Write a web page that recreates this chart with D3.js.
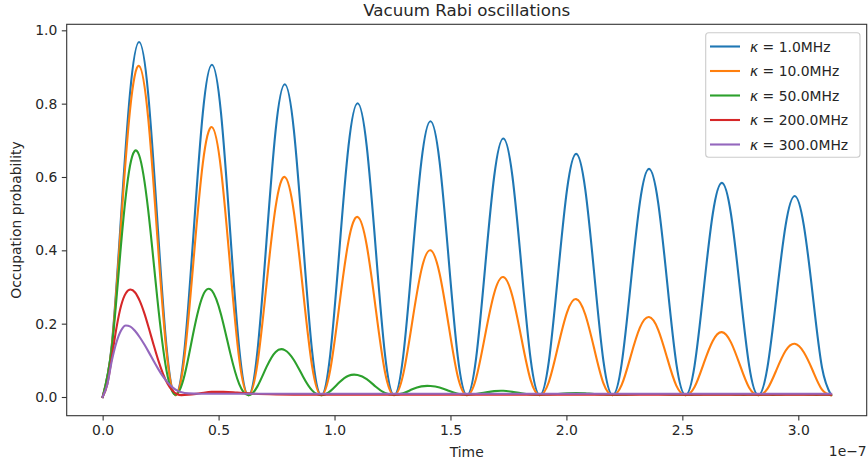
<!DOCTYPE html>
<html>
<head>
<meta charset="utf-8">
<script src="https://cdn.jsdelivr.net/npm/d3@7"></script>
<style>
  body { margin: 0; background: #fff; }
  svg { display: block; }
  text { font-family: "DejaVu Sans", sans-serif; fill: #262626; }
</style>
</head>
<body>
<svg id="chart" width="868" height="463"></svg>
<script>
// time is in units of 1e-7 s; the three oscillating series are read on a
// grid of 8 samples per half Rabi period (zeros at multiples of pi/10)
const halfPeriod = Math.PI / 10;

const seriesNames = ["1.0MHz", "10.0MHz", "50.0MHz", "200.0MHz", "300.0MHz"];
const seriesColors = ["#1f77b4", "#ff7f0e", "#2ca02c", "#d62728", "#9467bd"];

const kappa1 = [0,
  .141, .484, .827, .968, .827, .484, .141, .005,
  .132, .453, .774, .906, .774, .453, .132, .005,
  .125, .427, .728, .853, .728, .427, .125, .005,
  .117, .401, .684, .801, .684, .401, .117, .005,
  .110, .376, .642, .752, .642, .376, .110, .005,
  .103, .353, .602, .705, .602, .353, .103, .005,
  .097, .332, .566, .663, .566, .332, .097, .005,
  .091, .311, .531, .622, .531, .311, .091, .005,
  .085, .292, .499, .584, .499, .292, .085, .005,
  .080, .274, .468, .548, .468, .274, .080, .005];

const kappa10 = [0,
  .137, .464, .781, .903, .761, .439, .127, .005,
  .112, .378, .637, .736, .621, .358, .103, .005,
  .091, .308, .519, .600, .505, .292, .084, .005,
  .075, .252, .425, .491, .414, .239, .069, .005,
  .061, .205, .346, .400, .337, .195, .056, .005,
  .050, .168, .283, .327, .275, .159, .046, .005,
  .041, .137, .231, .267, .225, .130, .037, .005,
  .033, .112, .189, .218, .184, .106, .031, .005,
  .027, .091, .153, .177, .149, .086, .025, .005,
  .022, .074, .126, .145, .122, .071, .020, .005];

const kappa50 = [0,
  .133, .410, .630, .660, .510, .270, .074, .006,
  .060, .180, .276, .290, .225, .121, .035, .005,
  .029, .082, .123, .128, .101, .056, .018, .005,
  .016, .040, .058, .060, .049, .028, .011, .006,
  .010, .021, .029, .030, .026, .017, .009, .006,
  .008, .012, .016, .017, .014, .010, .007, .006,
  .007, .008, .010, .011, .010, .008, .007, .006,
  .006, .007, .008, .008, .008, .007, .006, .006,
  .006, .007, .007, .007, .007, .006, .006, .006,
  .006, .006, .007, .007, .007, .006, .006, .006];

// the two strongly damped series are read at uneven times
const tDamped = [0, .02, .04, .06, .08, .10, .12, .14, .16, .18, .20, .22, .24, .26,
  .28, .30, .32, .34, .37, .42, .47, .52, .58, .65, .75, .9, 1.2, 1.6, 2.0, 2.5, 3.1416];
const kappa200 = [0, .035, .11, .19, .25, .283, .293, .285, .262, .228, .186, .142, .100, .064,
  .036, .018, .008, .005, .006, .010, .014, .014, .012, .009, .007, .006, .006, .006, .006, .006, .006];
const kappa300 = [0, .034, .10, .15, .182, .195, .192, .180, .163, .143, .121, .098, .076, .056,
  .040, .027, .018, .013, .010, .009, .009, .009, .009, .009, .009, .009, .009, .009, .009, .009, .009];

const xTicks = [0, 0.5, 1.0, 1.5, 2.0, 2.5, 3.0];
const yTicks = [0, 0.2, 0.4, 0.6, 0.8, 1.0];

const tGrid = d3.range(kappa1.length).map(i => i * halfPeriod / 8);
const series = [
  { t: tGrid, v: kappa1, curve: d3.curveNatural },
  { t: tGrid, v: kappa10, curve: d3.curveNatural },
  { t: tGrid, v: kappa50, curve: d3.curveNatural },
  { t: tDamped, v: kappa200, curve: d3.curveMonotoneX },
  { t: tDamped, v: kappa300, curve: d3.curveMonotoneX }
];

const box = { left: 66.7, right: 866.7, top: 24.3, bottom: 415.7 };
const svg = d3.select("#chart");

const x = d3.scaleLinear().domain([-0.155, 3.295]).range([box.left, box.right]);
const y = d3.scaleLinear().domain([-0.051, 1.0164]).range([box.bottom, box.top]);

const fs = 13.9;

// axes
const xAxis = svg.append("g")
  .attr("transform", `translate(0,${box.bottom})`)
  .call(d3.axisBottom(x).tickValues(xTicks).tickFormat(d3.format(".1f")).tickSize(4.9).tickPadding(4.5));
const yAxis = svg.append("g")
  .attr("transform", `translate(${box.left},0)`)
  .call(d3.axisLeft(y).tickValues(yTicks).tickFormat(d3.format(".1f")).tickSize(4.9).tickPadding(4.5));
[xAxis, yAxis].forEach(g => {
  g.select(".domain").remove();
  g.selectAll(".tick line").attr("stroke", "#333").attr("stroke-width", 1.1);
  g.selectAll(".tick text").attr("font-size", fs).attr("font-family", "DejaVu Sans").attr("fill", "#262626");
});

// lines
series.forEach((s, i) => {
  const line = d3.line().curve(s.curve);
  svg.append("path")
    .attr("d", line(s.t.map((t, j) => [x(t), y(s.v[j])])))
    .attr("fill", "none")
    .attr("stroke", seriesColors[i])
    .attr("stroke-width", 2.1)
    .attr("stroke-linejoin", "round")
    .attr("stroke-linecap", "square");
});

// frame
svg.append("rect")
  .attr("x", box.left).attr("y", box.top)
  .attr("width", box.right - box.left).attr("height", box.bottom - box.top)
  .attr("fill", "none").attr("stroke", "#333").attr("stroke-width", 1.1);

// texts
svg.append("text")
  .attr("x", (box.left + box.right) / 2).attr("y", 16)
  .attr("text-anchor", "middle").attr("font-size", 16.7)
  .text("Vacuum Rabi oscillations");
svg.append("text")
  .attr("x", (box.left + box.right) / 2).attr("y", 457)
  .attr("text-anchor", "middle").attr("font-size", fs)
  .text("Time");
svg.append("text")
  .attr("transform", `translate(21,${(box.top + box.bottom) / 2}) rotate(-90)`)
  .attr("text-anchor", "middle").attr("font-size", fs)
  .text("Occupation probability");
svg.append("text")
  .attr("x", box.right).attr("y", 456)
  .attr("text-anchor", "end").attr("font-size", fs)
  .text("1e\u22127");

// legend
const lg = svg.append("g");
lg.append("rect")
  .attr("x", 705.7).attr("y", 32.7).attr("width", 154.3).attr("height", 124.6)
  .attr("rx", 3).attr("fill", "#fff").attr("fill-opacity", 0.8)
  .attr("stroke", "#ccc").attr("stroke-width", 1.1);
seriesNames.forEach((name, i) => {
  const cy = 46.5 + i * 24.5;
  lg.append("line")
    .attr("x1", 710).attr("x2", 740).attr("y1", cy).attr("y2", cy)
    .attr("stroke", seriesColors[i]).attr("stroke-width", 2.1);
  const tx = lg.append("text").attr("x", 750).attr("y", cy + 5).attr("font-size", fs);
  tx.append("tspan").attr("font-style", "italic").text("\u03ba");
  tx.append("tspan").text(" = " + name);
});
</script>
</body>
</html>
